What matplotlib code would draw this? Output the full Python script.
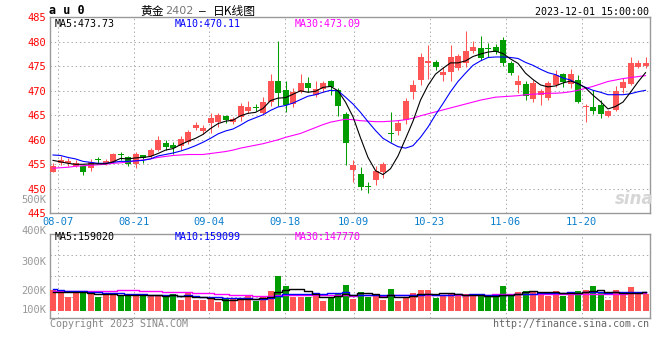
import numpy as np
import matplotlib.pyplot as plt

plt.rcParams['font.family'] = ['DejaVu Sans Mono', 'Noto Sans CJK SC']

# daily bars, 08-04 .. 12-01 (80 trading days)
opens = [453.5, 455.2, 455.2, 454.7, 454.6, 454.3, 456.1, 455.3, 455.5, 457.0,
         456.4, 455.0, 456.9, 456.6, 457.9, 459.3, 458.9, 458.7, 459.5, 462.5,
         461.7, 463.4, 463.7, 464.9, 463.7, 464.7, 465.9, 466.7, 465.4, 467.7,
         471.9, 470.2, 467.3, 469.8, 471.5, 469.1, 470.3, 472.0, 470.2, 465.2,
         453.8, 453.0, 450.6, 451.7, 453.5, 461.4, 461.8, 464.0, 469.8, 472.2,
         475.6, 475.9, 473.3, 473.9, 474.6, 475.6, 478.1, 478.8, 478.8, 479.0,
         480.4, 475.7, 471.2, 471.4, 468.3, 469.2, 468.6, 471.1, 473.4, 471.3,
         472.2, 466.6, 466.7, 467.1, 464.9, 466.0, 470.6, 471.4, 474.9, 475.1]
closes = [454.6, 455.8, 455.7, 455.2, 453.5, 455.4, 455.8, 455.7, 457.1, 456.8,
          455.0, 457.0, 456.3, 457.9, 460.0, 458.5, 458.3, 460.1, 461.5, 463.1,
          462.5, 464.4, 465.1, 464.0, 464.2, 466.9, 466.6, 466.5, 467.8, 472.1,
          469.6, 467.2, 469.8, 471.5, 470.5, 470.3, 471.5, 470.7, 466.8, 459.4,
          454.9, 450.4, 450.4, 453.6, 455.0, 461.1, 463.5, 468.0, 471.2, 476.8,
          476.0, 474.9, 473.9, 476.8, 477.0, 478.1, 479.0, 476.6, 478.6, 478.0,
          475.6, 473.7, 471.9, 469.0, 471.5, 470.0, 471.5, 473.2, 471.7, 473.4,
          467.8, 466.9, 465.8, 465.3, 465.9, 470.0, 471.7, 475.6, 475.7, 475.7]
highs = [455.3, 456.6, 456.3, 455.8, 454.8, 456.0, 456.4, 456.0, 457.4, 457.6,
         456.6, 457.6, 457.0, 458.3, 460.7, 460.0, 459.6, 460.8, 462.0, 463.6,
         463.0, 465.5, 465.5, 465.1, 464.6, 467.5, 468.0, 467.3, 468.8, 473.4,
         480.2, 471.9, 470.5, 473.4, 472.9, 472.1, 471.9, 472.2, 470.5, 465.7,
         455.9, 454.4, 451.3, 454.6, 455.5, 465.7, 464.0, 468.5, 472.2, 477.7,
         479.3, 476.3, 474.9, 479.3, 477.5, 482.2, 480.2, 481.2, 479.8, 479.5,
         481.0, 476.0, 473.2, 471.9, 472.3, 470.3, 472.1, 474.2, 473.6, 474.4,
         473.2, 467.4, 470.2, 468.1, 466.1, 470.9, 472.6, 477.0, 476.3, 477.0]
lows = [453.4, 454.9, 454.6, 454.4, 452.8, 453.6, 455.2, 454.9, 455.3, 455.9,
        454.7, 454.3, 455.3, 456.3, 457.7, 457.9, 457.1, 458.0, 459.1, 462.0,
        461.2, 461.3, 462.7, 463.5, 463.2, 463.9, 465.4, 465.9, 465.1, 466.8,
        466.8, 465.7, 466.6, 469.5, 469.8, 468.8, 469.8, 469.1, 464.9, 454.9,
        451.4, 449.8, 449.2, 450.8, 452.3, 459.6, 461.0, 463.3, 468.4, 471.2,
        472.5, 474.2, 472.1, 471.9, 474.2, 474.9, 477.7, 476.3, 477.0, 477.6,
        475.0, 473.3, 469.5, 468.1, 467.8, 467.1, 468.1, 470.8, 470.8, 470.5,
        467.6, 463.7, 465.3, 464.4, 464.7, 465.8, 469.6, 471.2, 474.6, 474.6]

ma5 = [455.8, 455.5, 455.2, 455.0, 455.0, 455.1, 455.1, 455.1, 455.5, 456.2,
       456.1, 456.3, 456.4, 456.6, 457.2, 457.9, 458.2, 459.0, 459.7, 460.3,
       461.1, 462.3, 463.3, 463.8, 464.0, 464.9, 465.4, 465.6, 466.4, 468.0,
       468.5, 468.6, 469.3, 470.0, 469.7, 469.9, 470.7, 470.9, 470.0, 467.7,
       464.7, 460.4, 456.4, 453.7, 452.9, 454.1, 456.7, 460.2, 463.8, 468.1,
       471.1, 473.4, 474.6, 475.7, 475.7, 476.1, 477.0, 477.5, 477.9, 478.1,
       477.6, 476.5, 475.6, 473.6, 472.3, 471.2, 470.8, 471.0, 471.6, 472.0,
       471.5, 470.6, 469.1, 467.8, 466.3, 466.8, 467.7, 469.7, 471.8, 473.7]
ma10 = [456.9, 456.8, 456.4, 456.1, 455.6, 455.4, 455.2, 455.2, 455.4, 455.6,
        455.6, 455.7, 455.8, 456.1, 456.7, 457.0, 457.3, 457.7, 458.2, 458.8,
        459.5, 460.3, 461.2, 461.8, 462.2, 463.0, 463.9, 464.5, 465.1, 466.0,
        466.7, 467.0, 467.5, 468.2, 468.9, 469.2, 469.7, 470.1, 470.0, 468.7,
        467.3, 465.6, 463.7, 461.9, 460.3, 459.4, 458.6, 458.3, 458.8, 460.5,
        462.6, 465.1, 467.4, 469.8, 471.9, 473.6, 475.2, 476.1, 476.8, 476.9,
        476.9, 476.8, 476.6, 475.8, 475.2, 474.4, 473.7, 473.3, 472.6, 472.2,
        471.4, 470.7, 470.1, 469.7, 469.2, 469.2, 469.2, 469.4, 469.8, 470.1]
ma30 = [454.2, 454.3, 454.4, 454.6, 454.7, 454.8, 454.9, 455.0, 455.2, 455.3,
        455.5, 455.7, 455.9, 456.1, 456.4, 456.6, 456.8, 456.9, 457.0, 457.0,
        457.0, 457.2, 457.4, 457.6, 457.9, 458.3, 458.6, 458.9, 459.2, 459.6,
        460.0, 460.5, 460.9, 461.3, 461.9, 462.5, 463.1, 463.6, 463.9, 464.2,
        464.1, 463.9, 463.8, 463.7, 463.7, 463.8, 463.9, 464.1, 464.4, 464.9,
        465.3, 465.7, 466.1, 466.5, 466.9, 467.3, 467.7, 468.1, 468.4, 468.7,
        468.8, 468.9, 469.0, 469.2, 469.3, 469.4, 469.5, 469.5, 469.6, 469.8,
        470.1, 470.5, 470.9, 471.4, 471.9, 472.2, 472.5, 472.7, 472.9, 473.1]

# volume, thousands of lots
volumes = [175, 169, 119, 152, 161, 167, 113, 133, 139, 133,
           141, 125, 125, 125, 133, 125, 141, 91, 147, 91,
           91, 110, 76, 97, 97, 110, 125, 85, 113, 169,
           294, 209, 113, 113, 113, 152, 85, 116, 152, 218,
           99, 161, 113, 125, 91, 184, 85, 113, 152, 175,
           175, 110, 125, 152, 133, 141, 125, 125, 113, 113,
           209, 125, 161, 167, 167, 156, 125, 167, 125, 161,
           167, 175, 209, 152, 91, 175, 141, 201, 141, 141]
vol_ma5 = [160, 160, 158, 157, 155, 154, 142, 145, 143, 137,
           132, 134, 133, 130, 130, 127, 130, 123, 127, 119,
           112, 106, 103, 93, 94, 98, 101, 103, 106, 120,
           157, 174, 180, 180, 168, 140, 115, 116, 124, 143,
           134, 149, 149, 143, 118, 135, 120, 120, 125, 142,
           140, 145, 147, 147, 139, 132, 135, 135, 127, 123,
           137, 137, 144, 155, 166, 155, 155, 156, 148, 147,
           149, 159, 167, 173, 159, 160, 154, 152, 150, 160]
vol_ma10 = [184, 175, 168, 167, 165, 160, 155, 150, 148, 146,
            143, 138, 139, 137, 134, 130, 132, 128, 129, 125,
            120, 118, 113, 110, 107, 105, 104, 103, 100, 107,
            128, 138, 142, 143, 144, 149, 145, 148, 152, 156,
            137, 132, 133, 134, 131, 135, 135, 135, 134, 130,
            138, 133, 134, 136, 141, 136, 140, 141, 137, 131,
            135, 136, 140, 141, 145, 146, 146, 150, 152, 157,
            152, 157, 162, 161, 153, 155, 157, 160, 162, 160]
vol_ma30 = [167, 167, 167, 168, 168, 168, 169, 170, 171, 172,
            173, 173, 170, 166, 163, 161, 160, 157, 155, 152,
            149, 146, 143, 140, 137, 134, 131, 128, 126, 125,
            129, 131, 130, 130, 130, 130, 129, 129, 129, 129,
            128, 129, 129, 129, 128, 130, 129, 130, 130, 131,
            132, 132, 133, 134, 135, 135, 136, 137, 137, 138,
            138, 138, 138, 138, 139, 139, 139, 139, 139, 139,
            140, 140, 141, 142, 142, 143, 144, 146, 147, 148]

tick_idx = [1, 11, 21, 31, 40, 50, 60, 70]
tick_lbl = ['08-07', '08-21', '09-04', '09-18', '10-09', '10-23', '11-06', '11-20']
vol_lbl = ['500K', '400K', '300K', '200K', '100K']

W, H = 660, 360
RED, GREEN = '#ff5555', '#009c00'
GRID = dict(color='#aaaaaa', linestyle=(0, (1.4, 2.8)), linewidth=0.72)


def fx(x):
    return x / W


def fy(y):
    return 1 - y / H


fig = plt.figure(figsize=(6.6, 3.6), dpi=100)
ax = fig.add_axes([fx(50), fy(213.3), 600 / W, 196 / H])
axv = fig.add_axes([fx(50), fy(317.7), 600 / W, (317.7 - 234.3) / H])

n = len(closes)
idx = np.arange(n)
x0, x1 = -0.4, n - 0.4
o = np.array(opens)
c = np.array(closes)
colors = np.where(c >= o, RED, GREEN)
grid_x = x0 + np.array(tick_idx) * (x1 - x0) / (n - 1)

# price panel
ax.vlines(idx, lows, highs, colors=colors, linewidth=0.75, zorder=2)
ax.bar(idx, np.maximum(np.abs(c - o), 0.18), bottom=np.minimum(o, c),
       width=0.8, color=colors, linewidth=0, zorder=3)
ax.plot(idx, ma30, color='#ff00ff', lw=0.8, zorder=4)
ax.plot(idx, ma10, color='#0000ff', lw=0.8, zorder=4)
ax.plot(idx, ma5, color='black', lw=0.8, zorder=5)
ax.set_xlim(x0, x1)
ax.set_ylim(445, 485)
ax.set_yticks(range(445, 486, 5))
ax.set_xticks(grid_x)
ax.set_xticklabels(tick_lbl)
ax.tick_params(axis='y', length=0, pad=3, labelsize=7.5, labelcolor='#ff0000')
ax.tick_params(axis='x', length=0, pad=3, labelsize=7.5, labelcolor='#0a7fcc')
ax.grid(True, **GRID)

# volume panel
axv.bar(idx, volumes, width=0.8, color=colors, linewidth=0, zorder=3)
axv.plot(idx, vol_ma30, color='#ff00ff', lw=1.0, drawstyle='steps-mid', zorder=4)
axv.plot(idx, vol_ma10, color='#0000ff', lw=1.0, drawstyle='steps-mid', zorder=4)
axv.plot(idx, vol_ma5, color='black', lw=1.0, drawstyle='steps-mid', zorder=5)
vlo, vhi = -59.3, 647.5
axv.set_xlim(x0, x1)
axv.set_ylim(vlo, vhi)
axv.set_xticks(grid_x)
axv.set_yticks([vlo + f * (vhi - vlo) for f in (0.25, 0.5, 0.75)])
axv.set_xticklabels([])
axv.set_yticklabels([])
axv.tick_params(length=0)
axv.grid(True, **GRID)

for a in (ax, axv):
    for s in a.spines.values():
        s.set_color('#999999')
        s.set_linewidth(1.0)

# volume axis labels
for lbl, y in zip(vol_lbl, [200, 231, 261.7, 290.7, 310]):
    fig.text(fx(46.5), fy(y), lbl, ha='right', va='center', fontsize=7.5, color='#999999')

# header
fig.text(fx(49), fy(11), 'a u 0', ha='left', va='center', fontsize=8.5, weight='bold')
fig.text(fx(140), fy(11), '黄金', ha='left', va='center', fontsize=8.5,
         family=['Noto Sans CJK SC'])
fig.text(fx(165), fy(11), '2402', ha='left', va='center', fontsize=8,
         color='#777777', family=['DejaVu Sans'])
fig.text(fx(199), fy(11), '–', ha='left', va='center', fontsize=8)
fig.text(fx(213), fy(11), '日K线图', ha='left', va='center', fontsize=8.5,
         family=['Noto Sans CJK SC'])
fig.text(fx(649), fy(12), '2023-12-01 15:00:00', ha='right', va='center', fontsize=7.2)

# MA legends
for txt, x, col in [('MA5:473.73', 55, 'black'), ('MA10:470.11', 175, '#0000ff'),
                    ('MA30:473.09', 295, '#ff00ff')]:
    fig.text(fx(x), fy(24), txt, ha='left', va='center', fontsize=7.2, color=col)
for txt, x, col in [('MA5:159020', 55, 'black'), ('MA10:159099', 175, '#0000ff'),
                    ('MA30:147770', 295, '#ff00ff')]:
    fig.text(fx(x), fy(237.5), txt, ha='left', va='center', fontsize=7.2, color=col)

# watermark and footer
fig.text(fx(634), fy(199), 'sina', ha='center', va='center', fontsize=12,
         style='italic', weight='bold', color='#d6d6d6', family=['DejaVu Sans'])
fig.text(fx(50), fy(324), 'Copyright 2023 SINA.COM', ha='left', va='center',
         fontsize=7.2, color='#888888')
fig.text(fx(649), fy(324), 'http://finance.sina.com.cn', ha='right', va='center',
         fontsize=7.2, color='#666666')

fig.savefig('out.png', dpi=100)
